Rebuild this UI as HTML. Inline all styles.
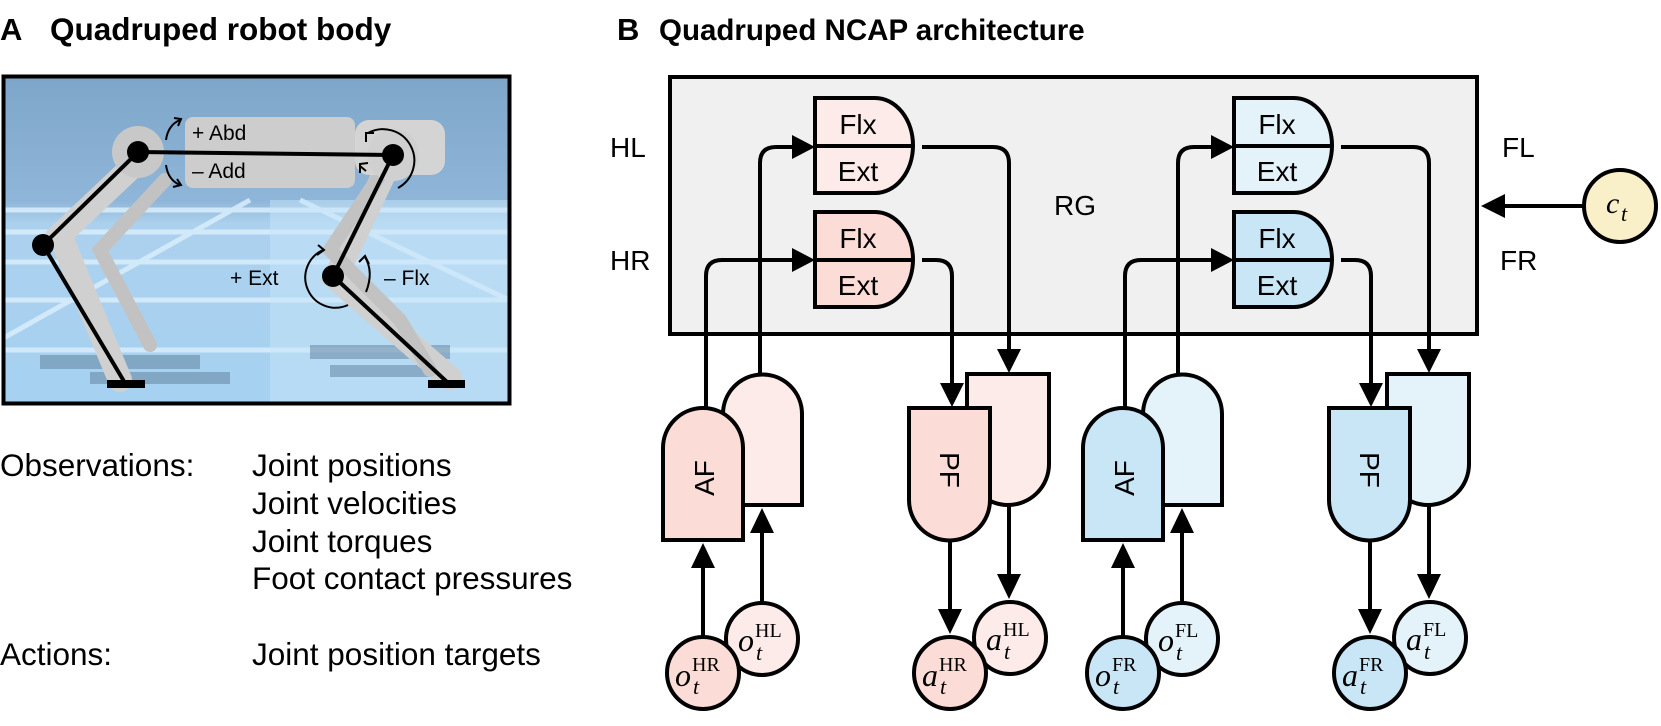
<!DOCTYPE html>
<html><head><meta charset="utf-8"><style>
html,body{margin:0;padding:0;background:#fff;}
svg{display:block;}
text{font-family:"Liberation Sans",Arial,sans-serif;fill:#000;}
.m{font-family:"Liberation Serif","DejaVu Serif",serif;font-style:italic;}
.s{font-family:"Liberation Serif","DejaVu Serif",serif;}
</style></head><body>
<svg width="1661" height="726" viewBox="0 0 1661 726" xmlns="http://www.w3.org/2000/svg">
<defs>
<linearGradient id="sky" x1="0" y1="0" x2="0" y2="1">
<stop offset="0" stop-color="#7ea6c9"/><stop offset="0.38" stop-color="#8fb6d8"/>
<stop offset="0.45" stop-color="#acd1ee"/><stop offset="1" stop-color="#a6d1f0"/>
</linearGradient>
<clipPath id="ph"><rect x="4" y="77" width="505" height="326"/></clipPath>
</defs>

<!-- Panel A -->
<text x="0" y="40" font-size="31" font-weight="bold">A</text>
<text x="50" y="40" font-size="31.5" font-weight="bold">Quadruped robot body</text>

<g clip-path="url(#ph)">
<rect x="4" y="77" width="505" height="326" fill="url(#sky)"/>
<g stroke="#d9eefc" stroke-width="5" opacity="0.85">
<line x1="0" y1="210" x2="509" y2="210"/><line x1="0" y1="232" x2="509" y2="232"/>
<line x1="0" y1="262" x2="509" y2="262"/><line x1="0" y1="300" x2="509" y2="300"/>
<line x1="0" y1="350" x2="509" y2="350"/>
<line x1="0" y1="340" x2="250" y2="200"/><line x1="509" y1="300" x2="300" y2="200"/>
</g>
<rect x="270" y="200" width="240" height="203" fill="#c8e6fa" opacity="0.5"/>
<g fill="#5d7f9c" opacity="0.5">
<rect x="40" y="355" width="160" height="14"/><rect x="90" y="372" width="140" height="12"/>
<rect x="310" y="345" width="140" height="14"/><rect x="330" y="365" width="110" height="12"/>
</g>
<g stroke="#d0d0d0" stroke-linecap="round" fill="none">
<path d="M150,150 L60,235 L120,380" stroke-width="24"/>
<path d="M165,180 L100,250 L150,345" stroke-width="14" stroke="#c2c2c2"/>
<path d="M393,155 L335,278 L450,378" stroke-width="24"/>
<path d="M380,175 L330,250 L400,320 L430,370" stroke-width="14" stroke="#c2c2c2"/>
</g>
<rect x="185" y="117" width="170" height="71" rx="8" fill="#cdcdcd"/>
<rect x="355" y="120" width="90" height="55" rx="14" fill="#d4d4d4"/>
<circle cx="138" cy="152" r="26" fill="#c8c8c8"/>
<circle cx="393" cy="155" r="26" fill="#d0d0d0"/>
<g stroke="#000" stroke-width="4" fill="none">
<line x1="138" y1="152" x2="393" y2="155"/>
<line x1="138" y1="152" x2="43" y2="245"/>
<line x1="43" y1="245" x2="125" y2="383"/>
<line x1="393" y1="155" x2="333" y2="276"/>
<line x1="333" y1="276" x2="447" y2="382"/>
</g>
<g fill="#000">
<circle cx="138" cy="152" r="11"/><circle cx="393" cy="155" r="11"/>
<circle cx="43" cy="245" r="11"/><circle cx="333" cy="276" r="11"/>
<rect x="107" y="380" width="38" height="8"/><rect x="428" y="380" width="37" height="8"/>
</g>
<g stroke="#000" stroke-width="2" fill="none">
<path d="M166,140 Q168,125 180,120"/><path d="M174,118 L181,119 L178,126"/>
<path d="M166,165 Q168,180 180,185"/><path d="M173,187 L181,185 L177,179"/>
<path d="M368,133 A25,25 0 1 1 398,188"/><path d="M366,142 L366,133 L374,133"/>
<path d="M366,171 L360,166"/><path d="M360,173 L360,164 L368,163"/>
<path d="M323,250 A30,30 0 1 0 348,305"/><path d="M317,255 L324,250 L318,245"/>
<path d="M365,257 Q374,272 366,292"/><path d="M359,262 L365,256 L369,264"/>
</g>
<g font-size="21">
<text x="192" y="140">+ Abd</text>
<text x="192" y="178">– Add</text>
<text x="230" y="285">+ Ext</text>
<text x="384" y="285">– Flx</text>
</g>
</g>
<rect x="3.5" y="76.5" width="506" height="327" fill="none" stroke="#000" stroke-width="4"/>

<g font-size="31.5">
<text x="0" y="476">Observations:</text>
<text x="252" y="476">Joint positions</text>
<text x="252" y="514">Joint velocities</text>
<text x="252" y="552">Joint torques</text>
<text x="252" y="589">Foot contact pressures</text>
<text x="0" y="665">Actions:</text>
<text x="252" y="665">Joint position targets</text>
</g>

<!-- Panel B -->
<text x="617" y="40" font-size="31" font-weight="bold">B</text>
<text x="659" y="40" font-size="29.5" font-weight="bold">Quadruped NCAP architecture</text>

<rect x="670" y="77" width="807" height="257" fill="#f0f0f0" stroke="#000" stroke-width="4"/>
<g font-size="28">
<text x="610" y="157">HL</text><text x="610" y="270">HR</text>
<text x="1502" y="157">FL</text><text x="1500" y="270">FR</text>
<text x="1054" y="215">RG</text>
</g>

<g stroke="#000" stroke-width="4">
<path d="M815,98 H875 A38,47.5 0 0 1 913,145.5 A38,47.5 0 0 1 875,193 H815 Z" fill="#fcebe8"/>
<path d="M815,212 H875 A38,47.5 0 0 1 913,259.5 A38,47.5 0 0 1 875,307 H815 Z" fill="#fcdcd6"/>
<path d="M1234,98 H1294 A38,47.5 0 0 1 1332,145.5 A38,47.5 0 0 1 1294,193 H1234 Z" fill="#e4f2fa"/>
<path d="M1234,212 H1294 A38,47.5 0 0 1 1332,259.5 A38,47.5 0 0 1 1294,307 H1234 Z" fill="#c8e6f6"/>
<line x1="815" y1="146" x2="913" y2="146"/><line x1="815" y1="260" x2="913" y2="260"/>
<line x1="1234" y1="146" x2="1332" y2="146"/><line x1="1234" y1="260" x2="1332" y2="260"/>
</g>
<g font-size="28" text-anchor="middle">
<text x="858" y="134">Flx</text><text x="858" y="181">Ext</text>
<text x="858" y="248">Flx</text><text x="858" y="295">Ext</text>
<text x="1277" y="134">Flx</text><text x="1277" y="181">Ext</text>
<text x="1277" y="248">Flx</text><text x="1277" y="295">Ext</text>
</g>

<g stroke="#000" stroke-width="4" fill="none">
<path d="M706,410 V276 Q706,260 722,260 H795"/>
<path d="M760,376 V163 Q760,147 776,147 H795"/>
<path d="M922,147 H993 Q1009,147 1009,163 V352"/>
<path d="M922,260 H936 Q952,260 952,276 V386"/>
<path d="M1125,410 V276 Q1125,260 1141,260 H1214"/>
<path d="M1178,376 V163 Q1178,147 1194,147 H1214"/>
<path d="M1341,147 H1413 Q1429,147 1429,163 V352"/>
<path d="M1341,260 H1355 Q1371,260 1371,276 V386"/>
<line x1="1584" y1="206" x2="1500" y2="206"/>
</g>
<g fill="#000">
<path d="M815,147 L792,135 L792,159 Z"/><path d="M815,260 L792,248 L792,272 Z"/>
<path d="M1234,147 L1211,135 L1211,159 Z"/><path d="M1234,260 L1211,248 L1211,272 Z"/>
<path d="M1009,373 L997,349 L1021,349 Z"/><path d="M952,407 L940,383 L964,383 Z"/>
<path d="M1429,373 L1417,349 L1441,349 Z"/><path d="M1371,407 L1359,383 L1383,383 Z"/>
<path d="M1481,206 L1505,194 L1505,218 Z"/>
</g>
<circle cx="1620" cy="206" r="36" fill="#f9efc8" stroke="#000" stroke-width="4"/>
<text class="m" x="1606" y="213" font-size="30">c</text>
<text class="m" x="1621" y="221" font-size="22">t</text>

<g stroke="#000" stroke-width="4">
<path d="M723,505 V414 A39.5,39.5 0 0 1 802,414 V505 Z" fill="#fcebe8"/>
<path d="M663,540 V448 A40,40 0 0 1 743,448 V540 Z" fill="#fcdcd6"/>
<path d="M967,374 H1049 V464 A41,41 0 0 1 967,464 Z" fill="#fcebe8"/>
<path d="M909,408 H990 V500 A40.5,40.5 0 0 1 909,500 Z" fill="#fcdcd6"/>
<path d="M1143,505 V414 A39.5,39.5 0 0 1 1222,414 V505 Z" fill="#e4f2fa"/>
<path d="M1083,540 V448 A40,40 0 0 1 1163,448 V540 Z" fill="#c8e6f6"/>
<path d="M1387,374 H1469 V464 A41,41 0 0 1 1387,464 Z" fill="#e4f2fa"/>
<path d="M1329,408 H1410 V500 A40.5,40.5 0 0 1 1329,500 Z" fill="#c8e6f6"/>
</g>
<g font-size="28" text-anchor="middle">
<text transform="translate(714,478) rotate(-90)">AF</text>
<text transform="translate(1134,478) rotate(-90)">AF</text>
<text transform="translate(940,470) rotate(90)">PF</text>
<text transform="translate(1360,470) rotate(90)">PF</text>
</g>

<g stroke="#000" stroke-width="4">
<line x1="703" y1="636" x2="703" y2="566"/><line x1="762" y1="602" x2="762" y2="530"/>
<line x1="950" y1="540" x2="950" y2="612"/><line x1="1009" y1="505" x2="1009" y2="577"/>
<line x1="1123" y1="636" x2="1123" y2="566"/><line x1="1182" y1="602" x2="1182" y2="530"/>
<line x1="1370" y1="540" x2="1370" y2="612"/><line x1="1429" y1="505" x2="1429" y2="577"/>
</g>
<g fill="#000">
<path d="M703,543 L691,568 L715,568 Z"/><path d="M762,508 L750,533 L774,533 Z"/>
<path d="M950,634 L938,609 L962,609 Z"/><path d="M1009,599 L997,574 L1021,574 Z"/>
<path d="M1123,543 L1111,568 L1135,568 Z"/><path d="M1182,508 L1170,533 L1194,533 Z"/>
<path d="M1370,634 L1358,609 L1382,609 Z"/><path d="M1429,599 L1417,574 L1441,574 Z"/>
</g>

<g stroke="#000" stroke-width="4">
<circle cx="762" cy="639" r="36" fill="#fcebe8"/>
<circle cx="703" cy="673" r="36" fill="#fcdcd6"/>
<circle cx="1010" cy="638" r="36" fill="#fcebe8"/>
<circle cx="950" cy="673" r="36" fill="#fcdcd6"/>
<circle cx="1182" cy="639" r="36" fill="#e4f2fa"/>
<circle cx="1123" cy="673" r="36" fill="#c8e6f6"/>
<circle cx="1430" cy="638" r="36" fill="#e4f2fa"/>
<circle cx="1370" cy="673" r="36" fill="#c8e6f6"/>
</g>
<g>
<text class="m" x="738" y="651" font-size="32">o</text><text class="s" x="755" y="637" font-size="20">HL</text><text class="m" x="756" y="660" font-size="22">t</text>
<text class="m" x="675" y="686" font-size="32">o</text><text class="s" x="692" y="671" font-size="20">HR</text><text class="m" x="693" y="694" font-size="22">t</text>
<text class="m" x="986" y="650" font-size="32">a</text><text class="s" x="1003" y="636" font-size="20">HL</text><text class="m" x="1004" y="659" font-size="22">t</text>
<text class="m" x="922" y="686" font-size="32">a</text><text class="s" x="939" y="671" font-size="20">HR</text><text class="m" x="940" y="694" font-size="22">t</text>
<text class="m" x="1158" y="651" font-size="32">o</text><text class="s" x="1175" y="637" font-size="20">FL</text><text class="m" x="1176" y="660" font-size="22">t</text>
<text class="m" x="1095" y="686" font-size="32">o</text><text class="s" x="1112" y="671" font-size="20">FR</text><text class="m" x="1113" y="694" font-size="22">t</text>
<text class="m" x="1406" y="650" font-size="32">a</text><text class="s" x="1423" y="636" font-size="20">FL</text><text class="m" x="1424" y="659" font-size="22">t</text>
<text class="m" x="1342" y="686" font-size="32">a</text><text class="s" x="1359" y="671" font-size="20">FR</text><text class="m" x="1360" y="694" font-size="22">t</text>
</g>
</svg>
</body></html>
